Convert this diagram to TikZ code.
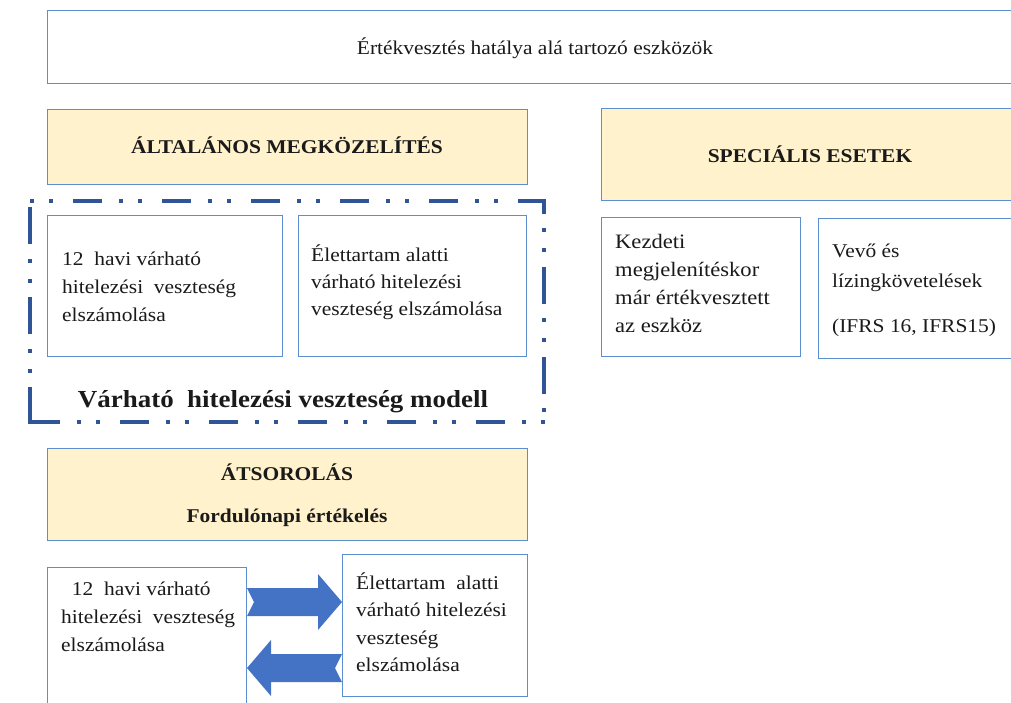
\documentclass[tikz,border=0pt]{standalone}
\usepackage{fontspec}
\setmainfont{Liberation Serif}[FakeStretch=1.1]
\usetikzlibrary{calc}
\definecolor{boxblue}{HTML}{5B8FD0}
\definecolor{yel}{HTML}{FFF2CC}
\definecolor{arrblue}{HTML}{4472C4}
\definecolor{dashblue}{HTML}{2F5597}
\definecolor{txtc}{HTML}{1A1A1A}
\newcommand\lns[2]{\vtop{\baselineskip=#1pt\lineskiplimit=-50pt\lineskip=0pt\halign{##\hfil\cr#2\crcr}}}
\begin{document}
\begin{tikzpicture}[x=1pt,y=-1pt,
  box/.style={draw=boxblue,line width=1.4pt,fill=white,inner sep=0pt,anchor=north west},
  ybox/.style={box,fill=yel},
  txt/.style={inner sep=0pt,text=txtc,font=\fontsize{19.5}{28}\selectfont},
  btxt/.style={txt,font=\fontsize{19.5}{28}\selectfont\bfseries},
  blockarrow/.style={fill=arrblue,draw=none},
  frameH/.style={dashblue,line width=3.5pt,line cap=butt,
    dash pattern=on 29pt off 17pt on 4pt off 15pt on 4pt off 20pt},
  frameV/.style={dashblue,line width=3.5pt,line cap=butt,
    dash pattern=on 37pt off 14pt on 4pt off 16pt on 4pt off 15pt}]
\useasboundingbox (0,0) rectangle (1011,702);
\clip (0,0) rectangle (1011,702);
% top
\node[box,minimum width=980,minimum height=73] (top) at (47,10) {};
\node[txt,anchor=base] (toptxt) at (535,54) {Értékvesztés hatálya alá tartozó eszközök};
% yellow headers
\node[ybox,minimum width=480,minimum height=75] (alt) at (47,109) {};
\node[btxt,anchor=base] (alttxt) at (287,153) {ÁLTALÁNOS MEGKÖZELÍTÉS};
\node[ybox,minimum width=420,minimum height=92] (spec) at (601,108) {};
\node[btxt,anchor=base] (spectxt) at (810,162) {SPECIÁLIS ESETEK};
% dash-dot frame
\coordinate (fTL) at (30,201);
\coordinate (fTR) at (544,201);
\coordinate (fBR) at (544,422);
\coordinate (fBL) at (30,422);
\draw[frameH,dash phase=44pt] ([xshift=-1.75pt]fTL) -- ([xshift=1.75pt]fTR);
\draw[frameV,dash phase=22pt] ([yshift=1.75pt]fTR) -- (fBR);
\draw[frameH,dash phase=86pt] ([xshift=-1.75pt]fBL) -- ([xshift=1.75pt]fBR);
\draw[frameV,dash phase=0pt] ([yshift=-1.75pt]fBL) -- (fTL);
% inner boxes
\node[box,minimum width=235,minimum height=141] (b1) at (47,215) {};
\node[txt,anchor=base west] (b1t) at (62,265) {\lns{28}{12\ \ havi várható\cr hitelezési\ \ veszteség\cr elszámolása}};
\node[box,minimum width=228,minimum height=141] (b2) at (298,215) {};
\node[txt,anchor=base west] (b2t) at (311,261) {\lns{27}{Élettartam alatti\cr várható hitelezési\cr veszteség elszámolása}};
\node[txt,anchor=base,font=\fontsize{24.5}{28}\selectfont\bfseries] (model) at (283,407) {Várható\ \ hitelezési veszteség modell};
% special cases
\node[box,minimum width=199,minimum height=139] (k) at (601,217) {};
\node[txt,anchor=base west,font=\fontsize{20.5}{28}\selectfont] (kt) at (615,248) {\lns{28}{Kezdeti\cr megjelenítéskor\cr már értékvesztett\cr az eszköz}};
\node[box,minimum width=210,minimum height=140] (v) at (818,218) {};
\node[txt,anchor=base west] (vt) at (832,257) {\lns{30}{Vevő és\cr lízingkövetelések}};
\node[txt,anchor=base west] (vt2) at (832,332) {(IFRS 16, IFRS15)};
% reclassification
\node[ybox,minimum width=480,minimum height=92] (ats) at (47,448) {};
\node[btxt,anchor=base] (atst) at (287,480) {ÁTSOROLÁS};
\node[btxt,anchor=base] (fort) at (287,522) {Fordulónapi értékelés};
% arrows
\fill[blockarrow] (247,588) -- (318,588) -- (318,574) -- (342,602) -- (318,630) -- (318,616) -- (247,616) -- (254,602) -- cycle;
\fill[blockarrow] (342,654) -- (271,654) -- (271,640) -- (247,668) -- (271,696) -- (271,682) -- (342,682) -- (335,668) -- cycle;
\node[box,minimum width=199,minimum height=150] (ll) at (47,567) {};
\node[txt,anchor=base west] (llt) at (61,595) {\lns{28}{\ \ 12\ \ havi várható\cr hitelezési\ \ veszteség\cr elszámolása}};
\node[box,minimum width=185,minimum height=142] (lr) at (342,554) {};
\node[txt,anchor=base west] (lrt) at (356,589) {\lns{27.5}{Élettartam\ \ alatti\cr várható hitelezési\cr veszteség\cr elszámolása}};
\end{tikzpicture}
\end{document}
